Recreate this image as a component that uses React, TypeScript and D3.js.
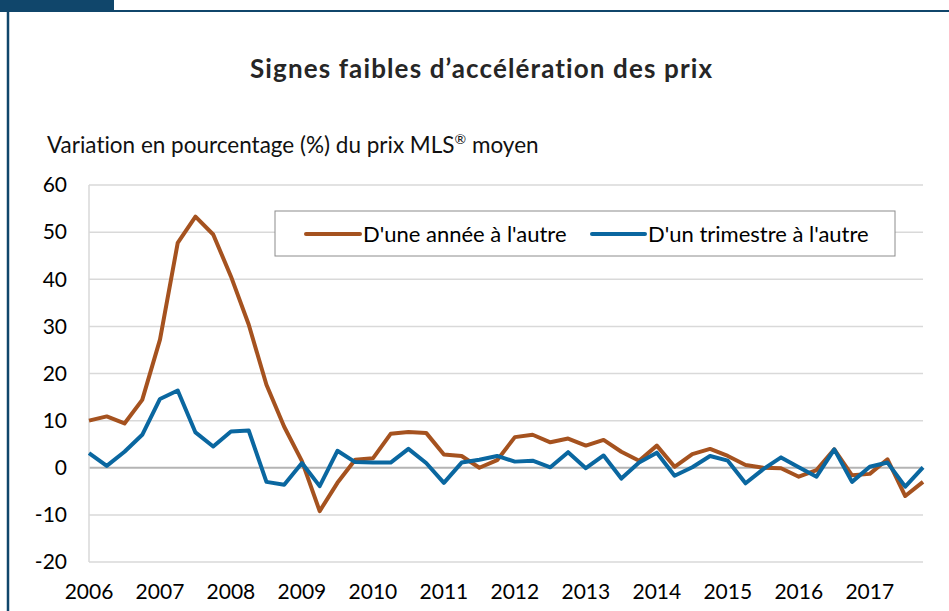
import React from 'react';
import * as d3 from 'd3';

// categories: quarters 2006 T1 .. 2017 T4
const years = [2006, 2007, 2008, 2009, 2010, 2011, 2012, 2013, 2014, 2015, 2016, 2017];
const quarters = ['T1', 'T2', 'T3', 'T4'];
const periods = years.flatMap((y) => quarters.map((q) => `${y}${q}`));

// D'une année à l'autre (%)
const yearOverYear = [
  10.0, 10.9, 9.4, 14.4, 27.2, 47.7, 53.3, 49.5, 40.6, 30.4, 17.6, 8.7,
  1.4, -9.2, -3.2, 1.7, 2.0, 7.2, 7.6, 7.4, 2.8, 2.5, 0.0, 1.6,
  6.5, 7.0, 5.4, 6.2, 4.7, 5.9, 3.4, 1.5, 4.7, 0.2, 2.9, 4.0,
  2.5, 0.6, 0.0, -0.1, -1.9, -0.5, 3.9, -1.6, -1.3, 1.8, -6.0, -3.0,
];

// D'un trimestre à l'autre (%)
const quarterOverQuarter = [
  3.1, 0.4, 3.4, 7.0, 14.6, 16.4, 7.5, 4.5, 7.7, 7.9, -3.0, -3.6,
  1.0, -3.9, 3.6, 1.2, 1.1, 1.1, 4.0, 1.0, -3.2, 1.1, 1.7, 2.5,
  1.3, 1.5, 0.1, 3.3, -0.1, 2.6, -2.3, 1.1, 3.2, -1.7, 0.1, 2.5,
  1.5, -3.3, -0.3, 2.2, 0.1, -1.9, 3.9, -3.0, 0.2, 1.1, -4.0, 0.1,
];

const yTicks = [-20, -10, 0, 10, 20, 30, 40, 50, 60];

const series = [
  { name: "D'une année à l'autre", values: yearOverYear, color: '#a5521f' },
  { name: "D'un trimestre à l'autre", values: quarterOverQuarter, color: '#0a67a0' },
];

const W = 949;
const H = 611;
const font = "Lato, 'Open Sans', sans-serif";

export default function App() {
  const x = d3.scalePoint().domain(periods).range([89, 923]);
  const y = d3.scaleLinear().domain([-20, 60]).range([562, 185]);

  const line = d3
    .line<number>()
    .x((d, i) => x(periods[i]) as number)
    .y((d) => y(d));

  return (
    <svg
      width={W}
      height={H}
      style={{ position: 'absolute', left: 0, top: 0, background: '#fff', fontVariantLigatures: 'none' }}
      fontFamily={font}
    >
      {/* frame */}
      <rect x={0} y={0} width={114} height={12} fill="#10466b" />
      <line x1={8} x2={W} y1={11} y2={11} stroke="#10466b" strokeWidth={2} />
      <line x1={8} x2={8} y1={11} y2={H} stroke="#10466b" strokeWidth={2.5} />

      <text
        x={481}
        y={78}
        textAnchor="middle"
        fontSize={26}
        fontWeight="bold"
        fill="#262626"
        textLength={462}
        lengthAdjust="spacing"
      >
        Signes faibles d’accélération des prix
      </text>
      <text x={47} y={153} fontSize={22.5} fill="#111">
        Variation en pourcentage (%) du prix MLS
        <tspan fontSize={14} dy={-9}>®</tspan>
        <tspan dy={9}> moyen</tspan>
      </text>

      {/* grid */}
      {yTicks.map((t) => (
        <g key={t}>
          <line
            x1={89}
            x2={923}
            y1={y(t)}
            y2={y(t)}
            stroke={t === 0 ? '#b4b4b4' : '#d9d9d9'}
            strokeWidth={t === 0 ? 2 : 1.5}
          />
          <text x={67} y={y(t)} dy="0.35em" textAnchor="end" fontSize={21} fill="#000">
            {t}
          </text>
        </g>
      ))}
      <line x1={89} x2={89} y1={185} y2={562} stroke="#d9d9d9" strokeWidth={1.5} />

      {years.map((yr) => (
        <text key={yr} x={x(`${yr}T1`)} y={599} textAnchor="middle" fontSize={21} fill="#000">
          {yr}
        </text>
      ))}

      {series.map((s) => (
        <path
          key={s.name}
          d={line(s.values) || ''}
          fill="none"
          stroke={s.color}
          strokeWidth={4}
          strokeLinejoin="round"
        />
      ))}

      {/* legend */}
      <rect x={275} y={211} width={620} height={45} fill="#fff" stroke="#8c8c8c" strokeWidth={1} />
      <line x1={306} x2={360} y1={234} y2={234} stroke={series[0].color} strokeWidth={4} strokeLinecap="round" />
      <text x={363} y={242} fontSize={22} fill="#000">{series[0].name}</text>
      <line x1={592} x2={645} y1={234} y2={234} stroke={series[1].color} strokeWidth={4} strokeLinecap="round" />
      <text x={648} y={242} fontSize={22} fill="#000">{series[1].name}</text>
    </svg>
  );
}
